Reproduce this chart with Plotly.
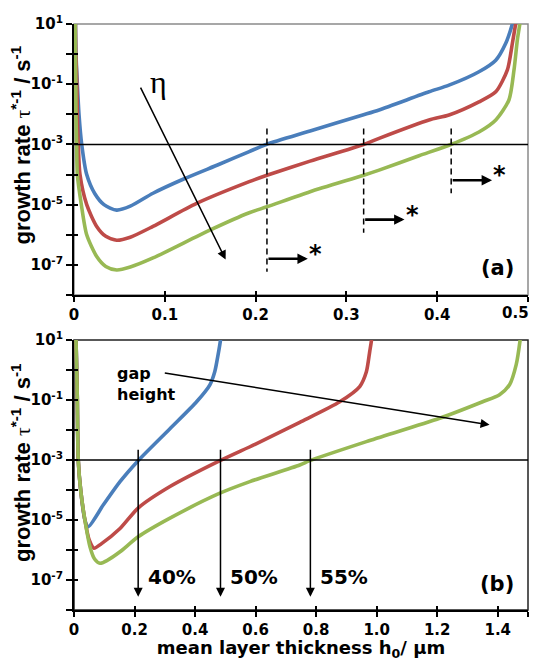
import math
import plotly.graph_objects as go

# ---------------- panel (a): growth rate vs mean layer thickness for three eta values
a_blue_x = [0.0015, 0.0022, 0.0037, 0.0055, 0.0085, 0.014, 0.023, 0.033, 0.047, 0.062, 0.087,
            0.122, 0.160, 0.193, 0.2117, 0.26, 0.318, 0.336, 0.391, 0.413, 0.446, 0.4645,
            0.4755, 0.4828, 0.486]
a_blue_y = [1.6e1, 1.0e0, 1.0e-1, 1.0e-2, 1.0e-3, 1.0e-4, 2.3e-5, 1.0e-5, 6.6e-6, 8.9e-6, 2.4e-5,
            7.4e-5, 2.2e-4, 5.8e-4, 1.0e-3, 2.8e-3, 9.5e-3, 1.4e-2, 5.6e-2, 9.3e-2, 2.6e-1, 6.3e-1,
            2.3e0, 1.0e1, 2.5e1]

a_red_x = [0.0015, 0.0020, 0.0032, 0.0037, 0.0047, 0.0066, 0.014, 0.025, 0.035, 0.047, 0.062,
           0.087, 0.135, 0.193, 0.2125, 0.26, 0.319, 0.336, 0.391, 0.413, 0.446, 0.4645,
           0.4773, 0.4828, 0.4864, 0.489]
a_red_y = [1.6e1, 1.0e0, 1.0e-1, 1.0e-2, 1.0e-3, 1.0e-4, 1.0e-5, 1.9e-6, 8.9e-7, 6.6e-7, 8.3e-7,
           1.9e-6, 1.1e-5, 5.8e-5, 9.5e-5, 2.8e-4, 1.0e-3, 1.6e-3, 6.5e-3, 9.5e-3, 2.6e-2, 5.6e-2,
           3.0e-1, 2.3e0, 1.0e1, 2.5e1]

a_green_x = [0.0013, 0.0016, 0.0020, 0.0022, 0.0029, 0.0037, 0.0081, 0.014, 0.025, 0.035, 0.047,
             0.062, 0.087, 0.149, 0.193, 0.2125, 0.26, 0.319, 0.336, 0.38, 0.415, 0.446, 0.4645,
             0.479, 0.4846, 0.4883, 0.491, 0.493]
a_green_y = [1.6e1, 1.0e0, 1.0e-1, 1.0e-2, 1.0e-3, 1.0e-4, 1.0e-5, 1.0e-6, 1.9e-7, 8.9e-8, 6.8e-8,
             8.5e-8, 1.7e-7, 1.4e-6, 5.4e-6, 8.5e-6, 2.7e-5, 9.5e-5, 1.4e-4, 4.2e-4, 1.0e-3, 2.6e-3,
             6.5e-3, 3.0e-2, 3.0e-1, 3.0e0, 1.0e1, 2.5e1]

# ---------------- panel (b): growth rate for three gap heights
b_blue_x = [0.006, 0.0066, 0.009, 0.011, 0.012, 0.014, 0.022, 0.036, 0.047, 0.097, 0.152, 0.212,
            0.317, 0.405, 0.449, 0.465, 0.476, 0.484, 0.487]
b_blue_y = [2.0e1, 1.0e1, 1.0e0, 1.0e-1, 1.0e-2, 1.0e-3, 1.0e-4, 1.0e-5, 6.0e-6, 3.2e-5, 1.9e-4,
            9.5e-4, 1.1e-2, 8.7e-2, 3.2e-1, 8.7e-1, 3.2e0, 1.0e1, 2.5e1]

b_red_x = [0.006, 0.0066, 0.009, 0.011, 0.012, 0.014, 0.022, 0.036, 0.050, 0.066, 0.090, 0.152,
           0.212, 0.317, 0.482, 0.600, 0.746, 0.878, 0.944, 0.966, 0.977, 0.983, 0.986]
b_red_y = [2.0e1, 1.0e1, 1.0e0, 1.0e-1, 1.0e-2, 1.0e-3, 1.0e-4, 1.0e-5, 2.2e-6, 1.15e-6, 1.6e-6,
           5.2e-6, 2.5e-5, 1.3e-4, 9.5e-4, 3.4e-3, 1.8e-2, 8.7e-2, 2.8e-1, 8.7e-1, 4.1e0, 1.0e1,
           2.5e1]

b_green_x = [0.006, 0.0066, 0.009, 0.011, 0.012, 0.014, 0.022, 0.036, 0.053, 0.068, 0.086, 0.110,
             0.152, 0.212, 0.317, 0.482, 0.581, 0.746, 0.779, 0.966, 1.208, 1.350, 1.406, 1.439,
             1.461, 1.474, 1.478]
b_green_y = [2.0e1, 1.0e1, 1.0e0, 1.0e-1, 1.0e-2, 1.0e-3, 1.0e-4, 1.0e-5, 1.26e-6, 5.0e-7,
             3.6e-7, 4.5e-7, 8.7e-7, 2.75e-6, 1.15e-5, 7.8e-5, 1.9e-4, 6.8e-4, 9.5e-4, 4.1e-3,
             2.45e-2, 8.7e-2, 1.5e-1, 3.2e-1, 1.5e0, 1.0e1, 2.5e1]

# critical growth rate level drawn across both panels
critical_rate = 1e-3

# markers in panel (a): dashed verticals at the critical thickness of each curve
a_crit_x = [0.2125, 0.319, 0.4154]
a_crit_top = [3.4e-3, 3.4e-3, 3.4e-3]
a_crit_bottom = [5.9e-8, 1.17e-6, 2.4e-5]
a_shift_y = [1.6e-7, 3.2e-6, 6.5e-5]
a_shift_len = 0.045

# markers in panel (b): critical thickness for each gap height
b_crit_x = [0.212, 0.484, 0.781]
b_crit_labels = ["40%", "50%", "55%"]
b_crit_top = 2.45e-3
b_crit_bottom = 2.75e-8

# axis ticks
y_tickvals = [1e-8, 1e-7, 1e-6, 1e-5, 1e-4, 1e-3, 1e-2, 1e-1, 1e0, 1e1]
y_ticktext = ["", "10<sup>-7</sup>", "", "10<sup>-5</sup>", "", "10<sup>-3</sup>", "",
              "10<sup>-1</sup>", "", "10<sup>1</sup>"]
a_xtickvals = [0, 0.1, 0.2, 0.3, 0.4, 0.5]
a_xticktext = ["0", "0.1", "0.2", "0.3", "0.4", ""]
a_last_label = "0.5"   # placed flush with the right edge of the panel
b_xtickvals = [0, 0.2, 0.4, 0.6, 0.8, 1.0, 1.2, 1.4, 1.5]
b_xticktext = ["0", "0.2", "0.4", "0.6", "0.8", "1.0", "1.2", "1.4", ""]

BLUE = "#4a7ebb"
RED = "#be4b48"
GREEN = "#98b954"
FONT = "DejaVu Sans"

fig = go.Figure()


def curve(x, y, color, xa, ya):
    fig.add_trace(go.Scatter(x=x, y=y, mode="lines", xaxis=xa, yaxis=ya,
                             line=dict(color=color, width=3.6, shape="spline", smoothing=0.7),
                             showlegend=False, hoverinfo="skip"))


curve(a_blue_x, a_blue_y, BLUE, "x", "y")
curve(a_red_x, a_red_y, RED, "x", "y")
curve(a_green_x, a_green_y, GREEN, "x", "y")
curve(b_blue_x, b_blue_y, BLUE, "x2", "y2")
curve(b_red_x, b_red_y, RED, "x2", "y2")
curve(b_green_x, b_green_y, GREEN, "x2", "y2")

# critical-rate lines
for xa, ya, xmax in (("x", "y", 0.5), ("x2", "y2", 1.5)):
    fig.add_trace(go.Scatter(x=[0, xmax], y=[critical_rate, critical_rate], mode="lines",
                             xaxis=xa, yaxis=ya, line=dict(color="black", width=1.5),
                             showlegend=False, hoverinfo="skip"))

# dashed verticals in panel (a)
for xv, yt, yb in zip(a_crit_x, a_crit_top, a_crit_bottom):
    fig.add_trace(go.Scatter(x=[xv, xv], y=[yt, yb], mode="lines", xaxis="x", yaxis="y",
                             line=dict(color="black", width=1.5, dash="6px,4px"),
                             showlegend=False, hoverinfo="skip"))

# empty traces so the overlaid tick-only axes (inward ticks) are rendered
for xa, ya in (("x3", "y3"), ("x4", "y4")):
    fig.add_trace(go.Scatter(x=[None], y=[None], xaxis=xa, yaxis=ya, mode="lines",
                             showlegend=False, hoverinfo="skip"))

annotations = []


def arrow(x_head, y_head, x_tail, y_tail, xa, ya, width=1.5, size=1.0):
    annotations.append(dict(x=x_head, y=math.log10(y_head), ax=x_tail, ay=math.log10(y_tail),
                            xref=xa, yref=ya, axref=xa, ayref=ya, text="",
                            showarrow=True, arrowhead=2, arrowsize=size,
                            arrowwidth=width, arrowcolor="black"))


def label(x, y, text, xa, ya, size, xanchor="center", family=FONT, bold=True, align="center"):
    annotations.append(dict(x=x, y=math.log10(y), xref=xa, yref=ya, text=text, showarrow=False,
                            xanchor=xanchor, yanchor="middle", align=align,
                            font=dict(family=family, size=size, color="black",
                                      weight="bold" if bold else "normal")))


# panel (a) annotations
label(0.093, 1.17e-1, "\u03b7", "x", "y", 32, family="Liberation Serif", bold=False)
arrow(0.167, 1.5e-7, 0.0725, 8.7e-2, "x", "y", width=1.5, size=1.2)
for xv, yv in zip(a_crit_x, a_shift_y):
    arrow(xv + a_shift_len, yv, xv, yv, "x", "y", width=2.6, size=0.8)
    label(xv + a_shift_len + 0.0085, yv * 1.45, "*", "x", "y", 24)
label(0.466, 7.9e-8, "(a)", "x", "y", 21)

# last tick label of the upper x axis, right-aligned at the panel edge
annotations.append(dict(x=a_xtickvals[-1], y=0.5072, xref="x", yref="paper", text=a_last_label,
                        showarrow=False, xanchor="right", yanchor="middle", xshift=3,
                        font=dict(family=FONT, size=15, color="black", weight="bold")))

# panel (b) annotations
label(0.135, 3.4e-1, "gap<br>height", "x2", "y2", 16, xanchor="left", align="left")
arrow(1.373, 1.48e-2, 0.295, 8.1e-1, "x2", "y2", width=1.5, size=1.2)
for xv, txt in zip(b_crit_x, b_crit_labels):
    arrow(xv, b_crit_bottom, xv, b_crit_top, "x2", "y2", width=1.5, size=1.2)
    label(xv + 0.026, 1.26e-7, txt, "x2", "y2", 20, xanchor="left")
label(1.398, 7.1e-8, "(b)", "x2", "y2", 21)

# rotated y-axis titles, one per panel
ytitle = ("growth rate <span style=\"font-family:'Liberation Serif';font-weight:normal\">"
          "\u03c4</span><sup>*-1</sup> / s<sup>-1</sup>")
for ypos in (0.793, 0.251):
    annotations.append(dict(x=-0.1165, y=ypos, xref="paper", yref="paper", text=ytitle,
                            textangle=-90, showarrow=False, xanchor="center", yanchor="middle",
                            font=dict(family="Liberation Sans", size=22, color="black",
                                      weight="bold")))

tickfont = dict(family=FONT, size=15, color="black", weight="bold")
common_x = dict(showgrid=False, zeroline=False, showline=True, linecolor="black", linewidth=2,
                ticks="outside", ticklen=5, tickwidth=1.5, tickcolor="black", tickfont=tickfont,
                automargin=False)
common_y = dict(type="log", range=[-8, 1], showgrid=False, zeroline=False, showline=True,
                linecolor="black", linewidth=2, ticks="outside", ticklen=6, tickwidth=1.5,
                tickcolor="black", tickvals=y_tickvals, ticktext=y_ticktext, tickfont=tickfont,
                automargin=False)
inner_x = dict(showgrid=False, zeroline=False, showline=False, ticks="inside", ticklen=4,
               tickwidth=1.5, tickcolor="black", showticklabels=False, automargin=False)
inner_y = dict(type="log", range=[-8, 1], showgrid=False, zeroline=False, showline=False,
               ticks="inside", ticklen=4, tickwidth=1.5, tickcolor="black",
               tickvals=y_tickvals, showticklabels=False, side="left", automargin=False)

title_font = dict(family=FONT, size=18, color="black", weight="bold")

fig.update_layout(
    width=533, height=661,
    margin=dict(l=74, r=5, t=24, b=51),
    paper_bgcolor="white", plot_bgcolor="white",
    font=dict(family=FONT, color="black"),
    xaxis=dict(domain=[0, 1], anchor="y", range=[0, 0.5], tickvals=a_xtickvals,
               ticktext=a_xticktext, **common_x),
    yaxis=dict(domain=[0.5375, 1], anchor="x", **common_y),
    xaxis2=dict(domain=[0, 1], anchor="y2", range=[0, 1.5], tickvals=b_xtickvals,
                ticktext=b_xticktext,
                title=dict(text="mean layer thickness h<sub>0</sub>/ \u03bcm", standoff=2,
                           font=title_font),
                **common_x),
    yaxis2=dict(domain=[0, 0.4608], anchor="x2", **common_y),
    xaxis3=dict(overlaying="x", anchor="y", range=[0, 0.5], tickvals=a_xtickvals, **inner_x),
    yaxis3=dict(overlaying="y", anchor="x", **inner_y),
    xaxis4=dict(overlaying="x2", anchor="y2", range=[0, 1.5], tickvals=b_xtickvals, **inner_x),
    yaxis4=dict(overlaying="y2", anchor="x2", **inner_y),
    annotations=annotations,
    shapes=[
        dict(type="rect", xref="x domain", yref="y domain", x0=0, x1=1, y0=0, y1=1,
             line=dict(color="#8a8a8a", width=1.5), layer="below"),
        dict(type="rect", xref="x2 domain", yref="y2 domain", x0=0, x1=1, y0=0, y1=1,
             line=dict(color="#222222", width=1.5), layer="below"),
    ],
)

fig.write_html("out.html")
